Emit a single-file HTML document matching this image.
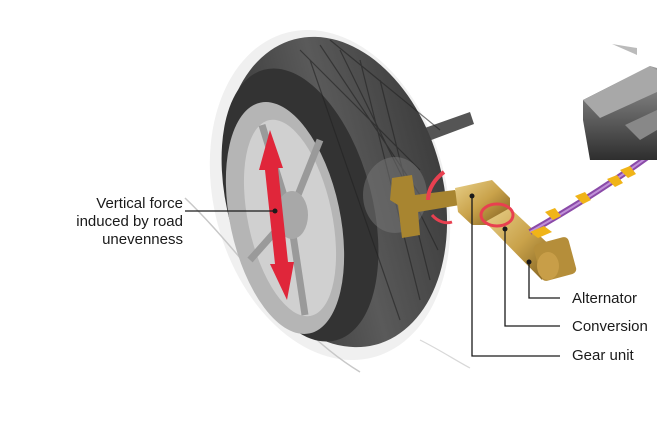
<!DOCTYPE html>
<html><head><style>
html,body{margin:0;padding:0;background:#fff;}
svg{display:block;}
text{font-family:"Liberation Sans",sans-serif;fill:#1a1a1a;}
</style></head><body>
<svg width="657" height="438" viewBox="0 0 657 438" xmlns="http://www.w3.org/2000/svg">
<defs>
<linearGradient id="gold" x1="0" y1="0" x2="1" y2="1">
<stop offset="0" stop-color="#e8d08a"/><stop offset="0.5" stop-color="#c9a24a"/><stop offset="1" stop-color="#7a5a1c"/>
</linearGradient>
<linearGradient id="tread" x1="0" y1="0" x2="1" y2="0">
<stop offset="0" stop-color="#333"/><stop offset="0.55" stop-color="#5a5a5a"/><stop offset="1" stop-color="#3e3e3e"/>
</linearGradient>
<linearGradient id="box" x1="0" y1="0" x2="0" y2="1">
<stop offset="0" stop-color="#9a9a9a"/><stop offset="1" stop-color="#2e2e2e"/>
</linearGradient>
</defs>
<!-- ghost outline -->
<ellipse cx="330" cy="195" rx="116" ry="168" transform="rotate(-15 330 195)" fill="#f0f0f0"/>
<!-- road curves -->
<path d="M185,198 C240,250 290,330 360,372" stroke="#c8c8c8" stroke-width="1.5" fill="none"/>
<path d="M420,340 C440,350 455,360 470,368" stroke="#d8d8d8" stroke-width="1.2" fill="none"/>
<!-- axle -->
<path d="M405,135 L470,112 L474,124 L410,148 Z" fill="#555"/>
<!-- tire -->
<ellipse cx="335" cy="192" rx="108" ry="158" transform="rotate(-15 335 192)" fill="url(#tread)"/>
<ellipse cx="300" cy="205" rx="72" ry="140" transform="rotate(-15 300 205)" fill="#333"/>
<g stroke="#222" stroke-width="1.2" opacity="0.6">
<path d="M300,50 L420,170 M320,45 L430,210 M340,50 L438,250 M330,40 L440,130 M310,60 L400,320 M360,60 L420,300 M380,80 L430,280"/>
</g>
<!-- rim -->
<ellipse cx="285" cy="218" rx="55" ry="118" transform="rotate(-12 285 218)" fill="#b5b5b5"/>
<ellipse cx="290" cy="218" rx="42" ry="100" transform="rotate(-12 290 218)" fill="#d0d0d0"/>
<g stroke="#9a9a9a" stroke-width="7">
<line x1="290" y1="215" x2="262" y2="125"/>
<line x1="290" y1="215" x2="320" y2="140"/>
<line x1="290" y1="215" x2="250" y2="260"/>
<line x1="290" y1="215" x2="305" y2="315"/>
</g>
<ellipse cx="292" cy="215" rx="16" ry="24" fill="#a8a8a8"/>
<ellipse cx="395" cy="195" rx="32" ry="38" fill="#777" opacity="0.5"/>
<!-- red arrow -->
<path d="M270,130 L283,168 L278,168 L288,262 L294,262 L287,300 L270,264 L275,264 L265,170 L259,170 Z" fill="#e0263a"/>
<!-- gold arm -->
<path d="M392,178 L412,175 L415,195 L455,190 L460,205 L418,212 L420,235 L402,238 L398,205 L390,200 Z" fill="#a88530"/>
<path d="M428,200 C428,188 436,178 444,172" stroke="#e84050" stroke-width="4" fill="none"/>
<path d="M432,215 C438,222 446,224 452,222" stroke="#e84050" stroke-width="3" fill="none"/>
<!-- gear housing -->
<path d="M455,188 L492,180 L510,198 L510,225 L472,225 L458,212 Z" fill="url(#gold)"/>
<path d="M485,222 L510,208 L555,250 L542,280 Z" fill="url(#gold)"/>
<rect x="537" y="240" width="36" height="38" rx="5" transform="rotate(-15 555 259)" fill="#b58e3a"/>
<ellipse cx="548" cy="266" rx="11" ry="14" fill="#c89e48"/>
<ellipse cx="497" cy="215" rx="16" ry="11" fill="none" stroke="#e84050" stroke-width="3"/>
<!-- cable -->
<path d="M530,232 C560,215 610,185 657,150" stroke="#8a4aa8" stroke-width="6" fill="none"/>
<path d="M530,232 C560,215 610,185 657,150" stroke="#c090d8" stroke-width="2" fill="none"/>
<g fill="#f0b418">
<path d="M545,212 l10,-4 l6,8 l-8,4 z"/><path d="M575,196 l10,-4 l6,8 l-8,4 z"/>
<path d="M607,179 l10,-4 l6,8 l-8,4 z"/><path d="M620,170 l10,-4 l6,8 l-8,4 z"/>
<path d="M530,232 l14,-6 l8,6 l-14,6 z"/>
</g>
<!-- control box -->
<path d="M612,44 L637,48 L637,55 Z" fill="#bbb"/>
<path d="M583,100 L650,66 L657,68 L657,160 L590,160 L583,120 Z" fill="url(#box)"/>
<path d="M583,100 L650,66 L657,70 L657,92 L600,118 Z" fill="#a8a8a8"/>
<path d="M625,125 L657,110 L657,130 L640,140 Z" fill="#888"/>
<!-- leader lines -->
<g stroke="#1a1a1a" stroke-width="1.3" fill="none">
<line x1="185" y1="211" x2="275" y2="211"/>
<polyline points="472,196 472,356 560,356"/>
<polyline points="505,229 505,326 560,326"/>
<polyline points="529,262 529,298 560,298"/>
</g>
<g fill="#1a1a1a">
<circle cx="275" cy="211" r="2.5"/><circle cx="472" cy="196" r="2.5"/>
<circle cx="505" cy="229" r="2.5"/><circle cx="529" cy="262" r="2.5"/>
</g>
<g font-size="15">
<text x="183" y="208" text-anchor="end">Vertical force</text>
<text x="183" y="226" text-anchor="end">induced by road</text>
<text x="183" y="244" text-anchor="end">unevenness</text>
<text x="572" y="303">Alternator</text>
<text x="572" y="331">Conversion</text>
<text x="572" y="360">Gear unit</text>
</g>
</svg>
</body></html>
